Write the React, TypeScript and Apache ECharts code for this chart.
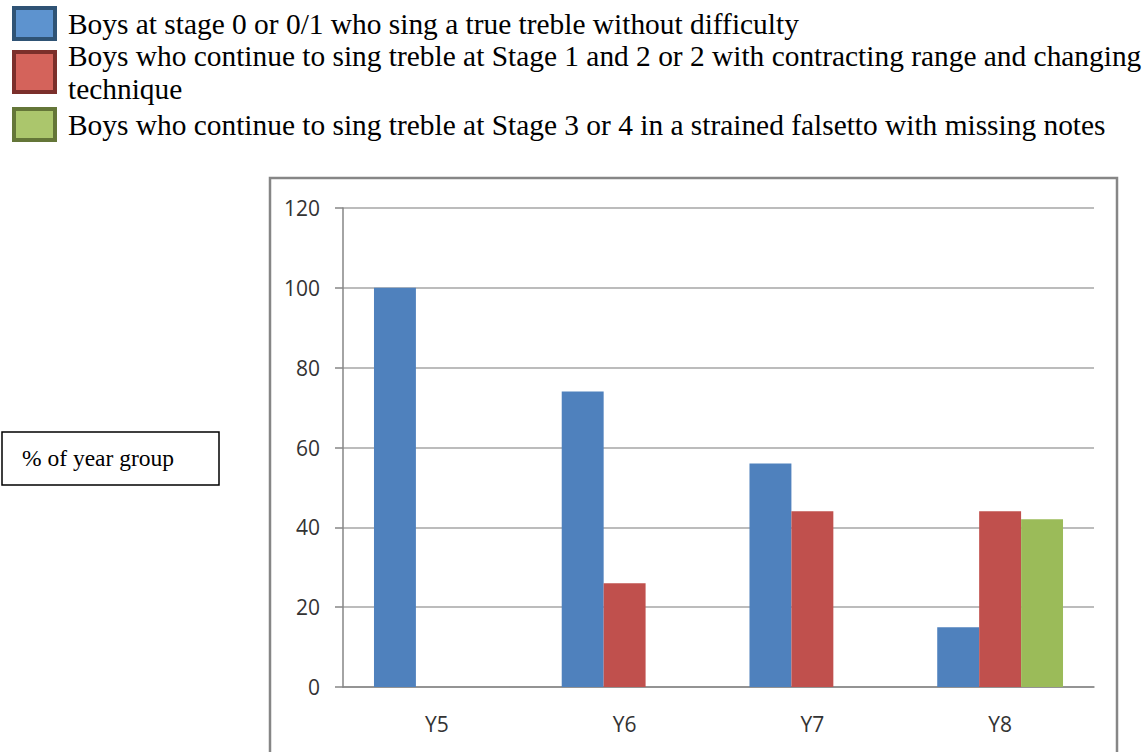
import React, { useEffect, useRef } from "react";
import * as echarts from "echarts";

const categories = ["Y5", "Y6", "Y7", "Y8"];
const seriesNames = [
  "Boys at stage 0 or 0/1 who sing a true treble without difficulty",
  "Boys who continue to sing treble at Stage 1 and 2 or 2 with contracting range and changing technique",
  "Boys who continue to sing treble at Stage 3 or 4 in a strained falsetto with missing notes",
];
const stage0Values = [100, 74, 56, 15];
const stage12Values = [0, 26, 44, 44];
const stage34Values = [0, 0, 0, 42];
const yTicks = { min: 0, max: 120, interval: 20 };
const yAxisNote = "% of year group";

const barColors = ["#4f81bd", "#c0504d", "#9bbb59"];
const legendFill = ["#5d93cf", "#d4635b", "#abc66c"];
const legendBorder = ["#2f5375", "#7b2f2b", "#647638"];

const SERIF = "'Liberation Serif', 'Times New Roman', serif";
const SANS = "'Open Sans', 'Liberation Sans', sans-serif";

function legendText(name: string) {
  return name.replace(" technique", "\ntechnique");
}

export default function App() {
  const ref = useRef<HTMLDivElement>(null);
  useEffect(() => {
    if (!ref.current) return;
    const chart = echarts.init(ref.current, null, { renderer: "svg" });
    const legendTops = [6, 39, 107];
    const legendHeights = [31, 40, 31];
    const values = [stage0Values, stage12Values, stage34Values];
    const option = {
      animation: false,
      legend: seriesNames.map((name, i) => ({
        orient: "vertical",
        left: 12,
        top: legendTops[i],
        itemWidth: 41,
        itemHeight: legendHeights[i],
        icon: "rect",
        selectedMode: false,
        padding: 0,
        data: [
          {
            name,
            itemStyle: {
              color: legendFill[i],
              borderColor: legendBorder[i],
              borderWidth: 4,
            },
          },
        ],
        formatter: legendText,
        textStyle: {
          fontFamily: SERIF,
          fontSize: 29.4,
          color: "#000",
          lineHeight: 33,
          padding: [0, 0, 0, 8],
        },
      })),
      grid: { left: 343, right: 54, top: 208, bottom: 65 },
      xAxis: {
        type: "category",
        data: categories,
        axisLine: { lineStyle: { color: "#868686", width: 1.5 } },
        axisTick: { length: 8, lineStyle: { color: "#868686", width: 1.5 } },
        axisLabel: { margin: 26, fontFamily: SANS, fontSize: 21, color: "#333" },
      },
      yAxis: {
        type: "value",
        min: yTicks.min,
        max: yTicks.max,
        interval: yTicks.interval,
        axisLine: { show: true, lineStyle: { color: "#868686", width: 1.5 } },
        axisTick: { show: true, length: 8, lineStyle: { color: "#868686", width: 1.5 } },
        splitLine: { lineStyle: { color: "#a6a6a6", width: 1.5 } },
        axisLabel: { margin: 23, fontFamily: SANS, fontSize: 21, color: "#333" },
      },
      series: seriesNames.map((name, i) => ({
        name,
        type: "bar",
        data: values[i],
        barGap: "0%",
        barCategoryGap: "33%",
        itemStyle: { color: barColors[i] },
      })),
      graphic: [
        {
          type: "rect",
          shape: { x: 270, y: 178, width: 847, height: 620 },
          style: { fill: "none", stroke: "#868686", lineWidth: 2.5 },
          silent: true,
        },
        {
          type: "rect",
          shape: { x: 2, y: 432, width: 217, height: 53 },
          style: { fill: "#fff", stroke: "#000", lineWidth: 1.5 },
          silent: true,
        },
        {
          type: "text",
          x: 22,
          y: 458,
          style: {
            text: yAxisNote,
            fontFamily: SERIF,
            fontSize: 23.5,
            fill: "#000",
            verticalAlign: "middle",
          },
          silent: true,
        },
      ],
    };
    chart.setOption(option as any);
    return () => chart.dispose();
  }, []);
  return (
    <div
      ref={ref}
      style={{ position: "absolute", left: 0, top: 0, width: 1148, height: 752, background: "#fff" }}
    />
  );
}
